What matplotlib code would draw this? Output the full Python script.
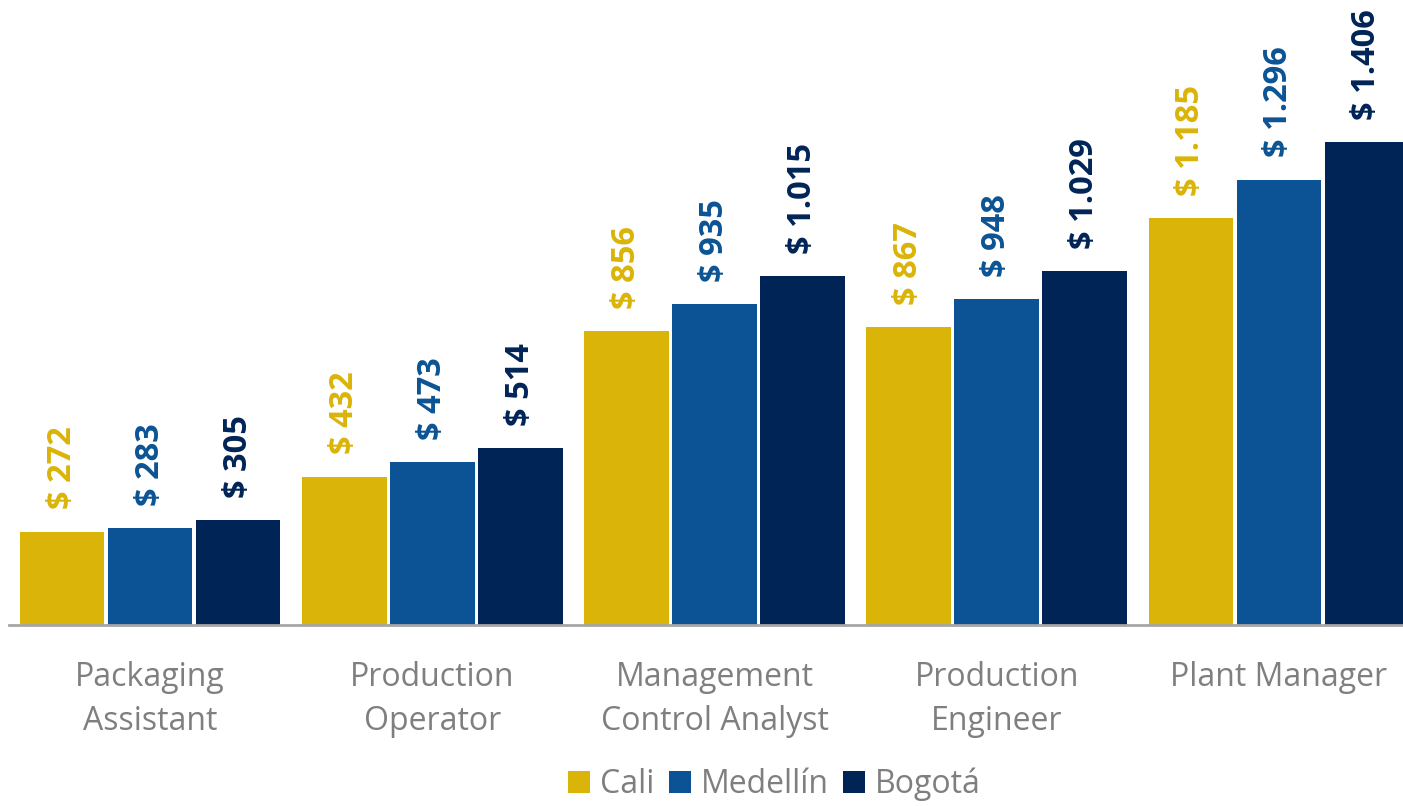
import matplotlib.pyplot as plt
import numpy as np

# === Data ===
roles = ["Packaging\nAssistant", "Production\nOperator", "Management\nControl Analyst",
         "Production\nEngineer", "Plant Manager"]
cali = [272, 432, 856, 867, 1185]
medellin = [283, 473, 935, 948, 1296]
bogota = [305, 514, 1015, 1029, 1406]
cities = ["Cali", "Medellín", "Bogotá"]

COLORS = ["#DAB408", "#0B5394", "#002456"]
GRAY = "#7F7F7F"

plt.rcParams["font.family"] = ["Open Sans", "DejaVu Sans"]

fig = plt.figure(figsize=(14.03, 8.06), dpi=100)
# axes slightly wider than the figure, the last bar is cut off in the original
ax = fig.add_axes([9 / 1403, 1 - 625 / 806, 1411 / 1403, 625 / 806])

x = np.arange(len(roles))
step = 0.312
width = 0.30

for i, (vals, color, name) in enumerate(zip([cali, medellin, bogota], COLORS, cities)):
    pos = x + (i - 1) * step
    bars = ax.bar(pos, vals, width, color=color, label=name)
    for b, v in zip(bars, vals):
        txt = f"$ {v:,}".replace(",", ".")
        ax.annotate(txt, (b.get_x() + b.get_width() / 2, v), xytext=(0, 16),
                    textcoords="offset points", rotation=90, ha="center", va="bottom",
                    color=color, fontsize=23.5, fontweight="bold")

ax.set_xlim(-0.5, 4.5)
ax.set_ylim(0, 1819)
ax.set_xticks(x)
ax.set_xticklabels(roles, fontsize=23, color=GRAY, linespacing=1.45)
ax.tick_params(axis="x", length=0, pad=26)
ax.set_yticks([])
for s in ["top", "right", "left"]:
    ax.spines[s].set_visible(False)
ax.spines["bottom"].set_color("#A6A6A6")
ax.spines["bottom"].set_linewidth(2)

leg = fig.legend(loc="lower center", bbox_to_anchor=(0.552, -0.018), ncol=3, frameon=False,
                 fontsize=23, handlelength=0.7, handleheight=0.7, handletextpad=0.3,
                 columnspacing=0.45, borderpad=0.1)
for t in leg.get_texts():
    t.set_color(GRAY)

fig.savefig("out.png", dpi=100)
